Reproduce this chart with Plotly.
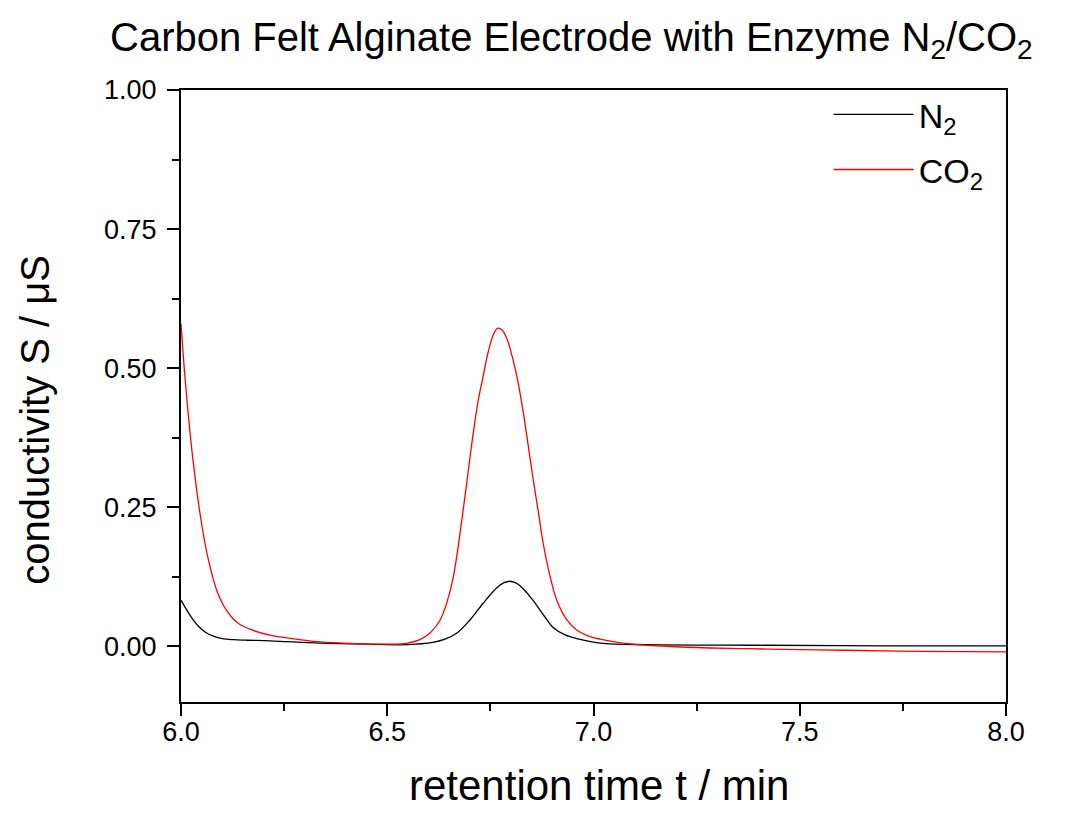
import plotly.graph_objects as go

# ---- data ----
co2_t = [6.000, 6.010, 6.022, 6.034, 6.046, 6.063, 6.087, 6.110, 6.136, 6.170,
         6.216, 6.280, 6.337, 6.420, 6.500, 6.550, 6.579, 6.605, 6.628, 6.645,
         6.660, 6.684, 6.705, 6.720, 6.732, 6.745, 6.758, 6.768, 6.778, 6.790,
         6.805, 6.817, 6.829, 6.841, 6.853, 6.866, 6.878, 6.895, 6.911, 6.935,
         6.960, 6.990, 7.016, 7.070, 7.130, 7.250, 7.370, 7.500, 7.610, 7.800,
         8.000]
co2_s = [0.580, 0.480, 0.383, 0.304, 0.239, 0.167, 0.100, 0.065, 0.043, 0.030,
         0.020, 0.013, 0.008, 0.005, 0.004, 0.006, 0.012, 0.025, 0.047, 0.080,
         0.124, 0.245, 0.365, 0.440, 0.484, 0.530, 0.562, 0.572, 0.569, 0.553,
         0.515, 0.475, 0.424, 0.365, 0.304, 0.243, 0.185, 0.125, 0.083, 0.048,
         0.029, 0.018, 0.013, 0.006, 0.002, -0.002, -0.004, -0.006, -0.007, -0.009,
         -0.010]

n2_t = [6.000, 6.020, 6.040, 6.060, 6.080, 6.100, 6.130, 6.160, 6.216, 6.337,
        6.450, 6.550, 6.610, 6.640, 6.669, 6.700, 6.732, 6.765, 6.782, 6.797,
        6.812, 6.830, 6.853, 6.880, 6.902, 6.930, 6.960, 7.016, 7.130, 7.400,
        7.700, 8.000]
n2_s = [0.083, 0.058, 0.038, 0.025, 0.018, 0.014, 0.012, 0.011, 0.010, 0.006,
        0.004, 0.003, 0.007, 0.013, 0.024, 0.047, 0.077, 0.105, 0.114, 0.117,
        0.114, 0.103, 0.083, 0.055, 0.034, 0.021, 0.014, 0.006, 0.003, 0.002,
        0.001, 0.001]

x_ticks = [6.0, 6.5, 7.0, 7.5, 8.0]
y_ticks = [0.00, 0.25, 0.50, 0.75, 1.00]

FONT = "Liberation Sans, Arial, sans-serif"

fig = go.Figure()
fig.add_trace(go.Scatter(x=n2_t, y=n2_s, mode="lines", name="N<sub>2</sub>", legendgroup="n2",
                         line=dict(color="#000000", width=1.3, shape="spline", smoothing=1.0)))
fig.add_trace(go.Scatter(x=co2_t, y=co2_s, mode="lines", name="CO<sub>2</sub>", legendgroup="co2",
                         line=dict(color="#ff0000", width=1.3, shape="spline", smoothing=1.0)))

axis_common = dict(showgrid=False, zeroline=False, showline=True, linewidth=2,
                   linecolor="black", mirror=True, ticks="outside", ticklen=12,
                   tickwidth=2, tickcolor="black",
                   tickfont=dict(family=FONT, size=27, color="black"))

fig.update_xaxes(range=[6, 8], tickvals=x_ticks, ticktext=[f"{v:.1f}" for v in x_ticks],
                 ticklabelstandoff=-7,
                 minor=dict(dtick=0.25, tick0=6, ticklen=7, tickwidth=2, tickcolor="black", ticks="outside"),
                 **axis_common)
fig.update_yaxes(range=[-0.1, 1.0], tickvals=y_ticks, ticktext=[f"{v:.2f}" for v in y_ticks],
                 ticklabelstandoff=5,
                 minor=dict(dtick=0.125, tick0=0, ticklen=7, tickwidth=2, tickcolor="black", ticks="outside"),
                 **axis_common)

# page body has an 8px margin, so the figure is shifted by that amount
W, H = 1083, 805
L, T = 173, 82
PW, PH = 825, 612

fig.update_layout(
    width=W, height=H,
    margin=dict(l=L, r=W - L - PW, t=T, b=H - T - PH),
    plot_bgcolor="white", paper_bgcolor="white",
    font=dict(family=FONT, color="black"),
    showlegend=True,
    legend=dict(x=0.785, y=1.007, xanchor="left", yanchor="top", tracegroupgap=8,
                bgcolor="rgba(0,0,0,0)", font=dict(family=FONT, size=34, color="black"),
                itemwidth=80),
    annotations=[
        dict(text="Carbon Felt Alginate Electrode with Enzyme N<sub>2</sub>/CO<sub>2</sub>",
             xref="paper", yref="paper", x=0.473, y=1.082, xanchor="center", yanchor="middle",
             showarrow=False, font=dict(family=FONT, size=40, color="black")),
        dict(text="retention time t / min", xref="paper", yref="paper", x=0.507,
             y=(T + PH - 803) / PH, xanchor="center", yanchor="bottom", showarrow=False,
             font=dict(family=FONT, size=42, color="black")),
        dict(text="conductivity S / \u03bcS", xref="paper", yref="paper", x=-0.177, y=0.461,
             xanchor="center", yanchor="middle", textangle=-90, showarrow=False,
             font=dict(family=FONT, size=40, color="black")),
    ],
)

fig.write_html("out.html")
